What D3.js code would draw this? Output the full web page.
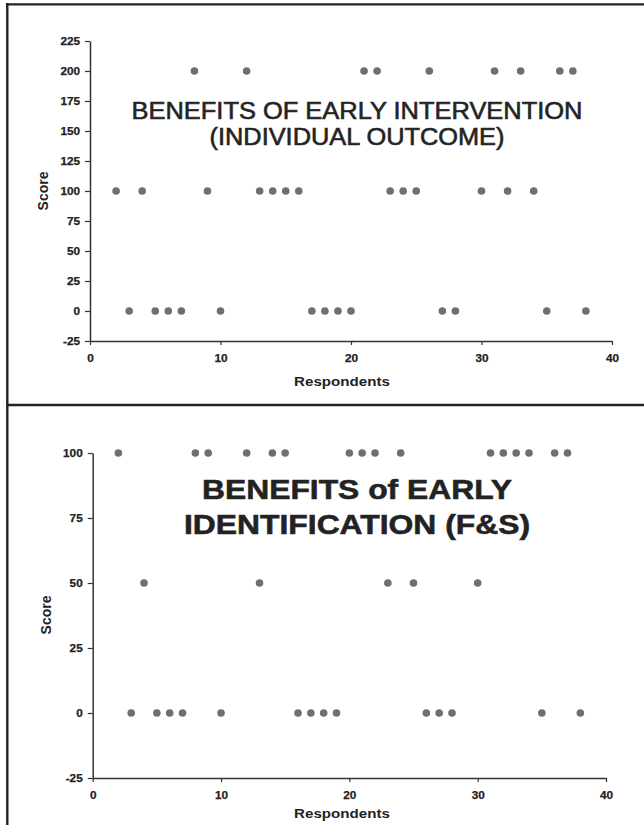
<!DOCTYPE html>
<html>
<head>
<meta charset="utf-8">
<script src="https://cdn.jsdelivr.net/npm/d3@7"></script>
<style>
  html, body { margin: 0; padding: 0; background: #fff; }
  svg { display: block; }
  text { font-family: "Liberation Sans", Arial, sans-serif; fill: #222; }
</style>
</head>
<body>
<svg id="chart" width="644" height="825"></svg>
<script>
// ---- Data ----
const respondents = [2,3,4,5,6,7,8,9,10,12,13,14,15,16,17,18,19,20,21,22,23,24,25,26,27,28,30,31,32,33,34,35,36,37,38];
const interventionScores = [100,0,100,0,0,0,200,100,0,200,100,100,100,100,0,0,0,0,200,200,100,100,100,200,0,0,100,200,100,200,100,0,200,200,0];
const identificationScores = [100,0,50,0,0,0,100,100,0,100,50,100,100,0,0,0,0,100,100,100,50,100,50,0,0,0,50,100,100,100,100,0,100,100,0];
const xTicks = [0,10,20,30,40];
const yTicksTop = [-25,0,25,50,75,100,125,150,175,200,225];
const yTicksBottom = [-25,0,25,50,75,100];
const titleTop = ["BENEFITS OF EARLY INTERVENTION", "(INDIVIDUAL OUTCOME)"];
const titleBottom = ["BENEFITS of EARLY", "IDENTIFICATION (F&S)"];
const xLabel = "Respondents";
const yLabel = "Score";

const svg = d3.select("#chart");
const HS = 1.12; // horizontal stretch seen in the reference
const fmt = d => String(d);

function stretch(sel, factor) {
  sel.each(function() {
    const w = this.getComputedTextLength();
    d3.select(this).attr("textLength", w * factor).attr("lengthAdjust", "spacingAndGlyphs");
  });
}

// panel frame lines
svg.append("rect").attr("x", 0).attr("y", 0).attr("width", 644).attr("height", 825).attr("fill", "#fff");
svg.append("line").attr("x1", 6).attr("x2", 644).attr("y1", 4.3).attr("y2", 4.3).attr("stroke", "#222").attr("stroke-width", 2.2);
svg.append("line").attr("x1", 7.3).attr("x2", 7.3).attr("y1", 3).attr("y2", 825).attr("stroke", "#222").attr("stroke-width", 2.4);
svg.append("line").attr("x1", 6).attr("x2", 644).attr("y1", 405).attr("y2", 405).attr("stroke", "#222").attr("stroke-width", 2.4);

function styleTicks(sel) {
  sel.attr("font-size", 10.5).attr("font-weight", "bold")
    .attr("font-family", "Liberation Sans, Arial, sans-serif").attr("fill", "#222")
    .attr("stroke", "#222").attr("stroke-width", 0.25);
  stretch(sel, HS);
}

function panel(cfg) {
  const x = d3.scaleLinear().domain([0, 40]).range(cfg.xr);
  const y = d3.scaleLinear().domain(cfg.yd).range(cfg.yr);
  const g = svg.append("g");

  // y axis
  const ya = g.append("g").attr("transform", `translate(${cfg.xr[0]},0)`)
    .call(d3.axisLeft(y).tickValues(cfg.yTicks).tickFormat(fmt).tickSize(5).tickPadding(5).tickSizeOuter(0));
  ya.select(".domain").attr("stroke", "#333").attr("stroke-width", 1.5);
  ya.selectAll(".tick line").attr("stroke", "#333").attr("stroke-width", 1.2);
  styleTicks(ya.selectAll(".tick text"));

  // x axis
  const xa = g.append("g").attr("transform", `translate(0,${cfg.yr[0]})`)
    .call(d3.axisBottom(x).tickValues(xTicks).tickFormat(fmt).tickSize(4).tickPadding(10).tickSizeOuter(0));
  xa.select(".domain").attr("stroke", "#333").attr("stroke-width", 1.5);
  xa.selectAll(".tick line").attr("stroke", "#333").attr("stroke-width", 1.2);
  styleTicks(xa.selectAll(".tick text"));

  // points
  g.append("g").selectAll("circle").data(respondents.map((r, i) => [r, cfg.values[i]]))
    .join("circle")
    .attr("cx", d => x(d[0])).attr("cy", d => y(d[1]))
    .attr("r", 3.8).attr("fill", "#6f6f6f");

  // axis titles
  const xl = g.append("text").attr("x", cfg.xLabelPos[0]).attr("y", cfg.xLabelPos[1])
    .attr("text-anchor", "middle").attr("font-size", 13.5).attr("font-weight", "bold")
    .attr("fill", "#2a2a2a").text(xLabel);
  stretch(xl, HS);
  g.append("text").attr("transform", `translate(${cfg.yLabelPos[0]},${cfg.yLabelPos[1]}) rotate(-90)`)
    .attr("text-anchor", "middle").attr("font-size", 14).attr("font-weight", "bold")
    .attr("fill", "#2a2a2a").text(yLabel);

  // inner title
  cfg.title.forEach((t, i) => {
    g.append("text").attr("x", cfg.titleX).attr("y", cfg.titleY[i])
      .attr("text-anchor", "middle").attr("font-size", cfg.titleSize)
      .attr("font-weight", cfg.titleWeight).attr("fill", "#2a2a2a")
      .attr("stroke", "#2a2a2a").attr("stroke-width", cfg.titleStroke)
      .attr("textLength", cfg.titleW[i]).attr("lengthAdjust", "spacingAndGlyphs")
      .text(t);
  });
}

panel({
  xr: [90, 612], yd: [-25, 225], yr: [341, 41], yTicks: yTicksTop,
  values: interventionScores,
  xLabelPos: [342, 386], yLabelPos: [48, 191],
  title: titleTop, titleX: 357, titleY: [119, 145], titleW: [451, 295],
  titleSize: 23, titleWeight: "normal", titleStroke: 0.6
});

panel({
  xr: [92.7, 606], yd: [-25, 100], yr: [778, 453], yTicks: yTicksBottom,
  values: identificationScores,
  xLabelPos: [342, 818], yLabelPos: [51, 615],
  title: titleBottom, titleX: 357, titleY: [499, 534], titleW: [310, 346],
  titleSize: 28, titleWeight: "bold", titleStroke: 0.6
});
</script>
</body>
</html>
